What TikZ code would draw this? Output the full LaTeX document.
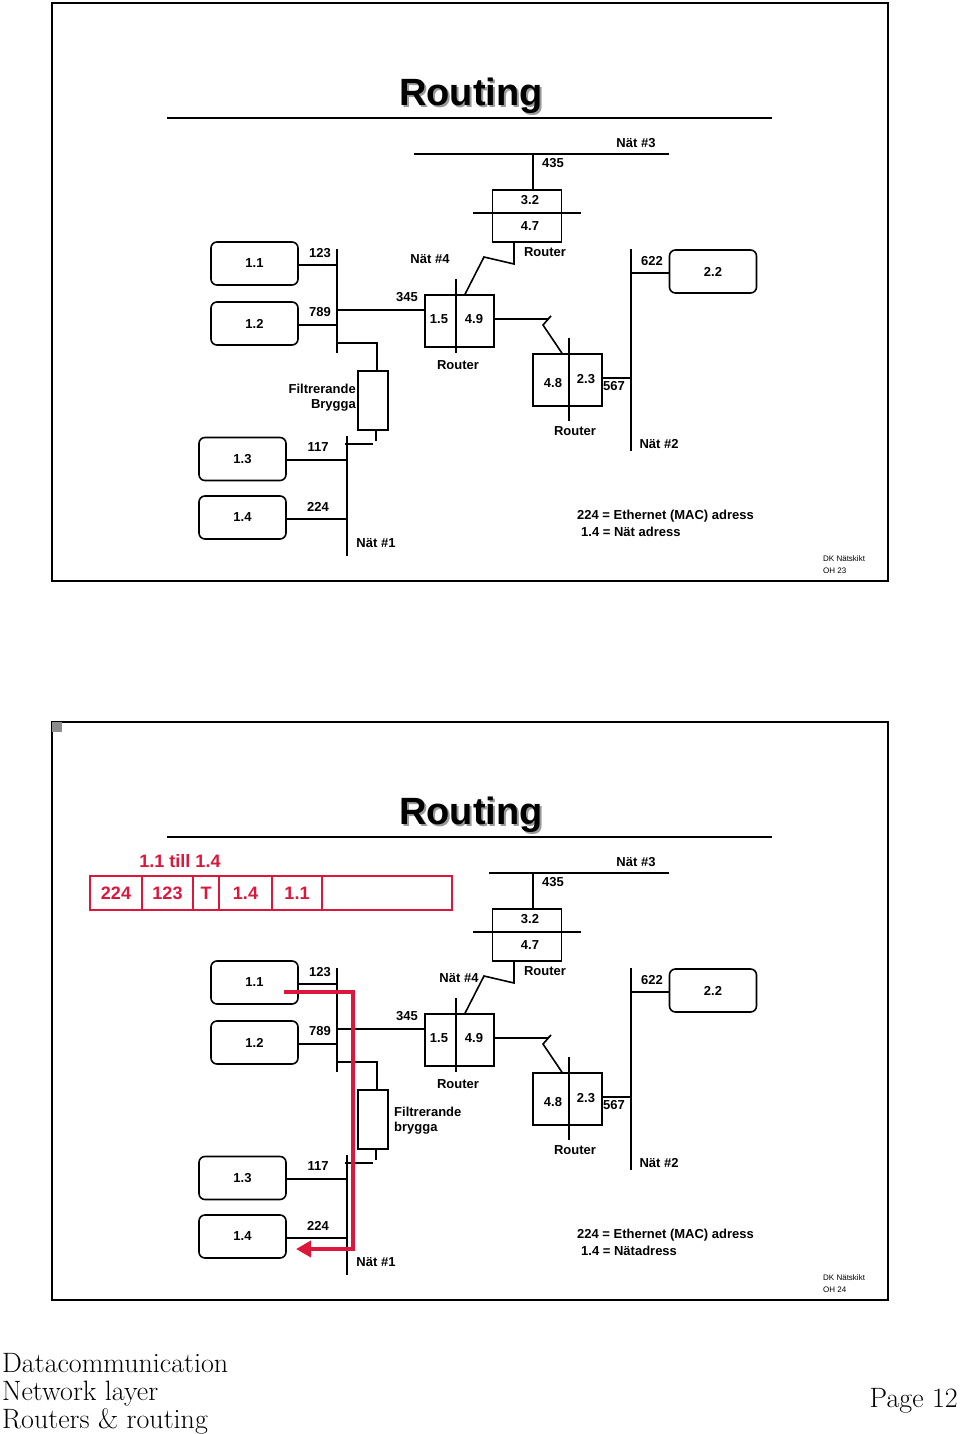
\documentclass[tikz,border=0pt]{standalone}
\usepackage{fontspec}
\setsansfont{Liberation Sans}
\usetikzlibrary{arrows.meta,positioning}
\definecolor{pktred}{RGB}{221,22,60}

\tikzset{
  wire/.style={line width=1.6pt},
  host/.style={draw,line width=1.6pt,rounded corners=6pt,minimum width=87pt,minimum height=43pt,inner sep=0pt,font=\sffamily\bfseries\fontsize{13}{15}\selectfont},
  rbox/.style={draw,line width=1.6pt,minimum width=69pt,minimum height=52pt,inner sep=0pt},
  lbl/.style={inner sep=0pt,font=\sffamily\bfseries\fontsize{13}{15}\selectfont},
  tiny/.style={inner sep=0pt,anchor=west,font=\sffamily\fontsize{8}{9}\selectfont},
  ttl/.style={inner sep=0pt,font=\sffamily\bfseries\fontsize{38}{42}\selectfont},
  field/.style={draw=pktred,line width=1.5pt,minimum height=34pt,inner sep=0pt,outer sep=0pt,text=pktred,font=\sffamily\bfseries\fontsize{18}{20}\selectfont},
  foot/.style={inner sep=0pt,font=\fontsize{28}{30}\selectfont}
}

\begin{document}
\begin{tikzpicture}[x=1pt,y=-1pt]
\useasboundingbox (0,0) rectangle (960,1434);

% the two slides
\foreach \dy/\bx/\nx/\oh/\adr in {0/414/430/23/Nät adress, 719/489/459/24/Nätadress}{
\begin{scope}[shift={(0,\dy)}]
  % frame and title
  \draw[line width=2pt] (52,3) rectangle (888,581);
  \node[ttl,text=black!40] (ttls) at (473,98) {Routing};
  \node[ttl] (ttl) at (471,96) {Routing};
  \draw[line width=2pt] (167,118) -- (772,118);

  % hosts
  \node[host] (h11) at (254.5,263.5) {1.1};
  \node[host] (h12) at (254.5,323.5) {1.2};
  \node[host] (h13) at (242.5,459) {1.3};
  \node[host] (h14) at (242.5,517.5) {1.4};
  \node[host] (h22) at (713,271.5) {2.2};

  % routers and bridge
  \node[rbox] (rB) at (527,216) {};
  \node[rbox] (rA) at (459.5,321) {};
  \node[rbox] (rC) at (567.5,380) {};
  \node[rbox,minimum width=30pt,minimum height=59pt] (br) at (373,400.5) {};

  % nets
  \coordinate (n3w) at (\bx,154); \coordinate (n3e) at (669,154);
  \coordinate (n1a) at (337,249); \coordinate (n1b) at (337,353);
  \coordinate (n1c) at (347,436); \coordinate (n1d) at (347,556);
  \coordinate (n2a) at (631,249); \coordinate (n2b) at (631,451);
  \coordinate (dAa) at (456,279); \coordinate (dAb) at (456,353);
  \coordinate (dBa) at (473,213); \coordinate (dBb) at (581,213);
  \coordinate (dCa) at (569,338); \coordinate (dCb) at (569,421);
  \coordinate (j435) at (533,154);
  \draw[wire] (n3w) -- (n3e);
  \draw[wire] (n1a) -- (n1b);
  \draw[wire] (n1c) -- (n1d);
  \draw[wire] (n2a) -- (n2b);
  \draw[wire] (dAa) -- (dAb);
  \draw[wire] (dBa) -- (dBb);
  \draw[wire] (dCa) -- (dCb);

  % connections
  \draw[wire] ([yshift=-1.5pt]h11.east) -- ([yshift=-1.5pt]h11.east -| n1a);
  \draw[wire] ([yshift=-1.5pt]h12.east) -- ([yshift=-1.5pt]h12.east -| n1a);
  \draw[wire] ([yshift=-1pt]h13.east) -- ([yshift=-1pt]h13.east -| n1c);
  \draw[wire] ([yshift=-1.5pt]h14.east) -- ([yshift=-1.5pt]h14.east -| n1c);
  \draw[wire] ([yshift=-1.5pt]h22.west) -- ([yshift=-1.5pt]h22.west -| n2a);
  \draw[wire] (j435) -- (j435 |- rB.north);
  \draw[wire] ([yshift=11pt]rA.west) -- ([yshift=11pt]rA.west -| n1a);
  \draw[wire] ([yshift=2pt]rC.east) -- ([yshift=2pt]rC.east -| n2a);
  \draw[wire] (rB.south -| 514,0) -- (514,264) -- (484,257) -- ([xshift=5.5pt]rA.north);
  \draw[wire] ([yshift=2pt]rA.east) -- (548,319) -- (551,316) -- (543,325) -- ([xshift=-5.5pt]rC.north);
  \draw[wire] (n1a |- 0,343) -- (377,343) -- (br.north -| 377,0);
  \draw[wire] (br.south -| 376,0) -- (376,441);
  \draw[wire] (345,444) -- (373,444);

  % labels
  \node[lbl] (l123) at (320,253) {123};
  \node[lbl] (l789) at (320,312) {789};
  \node[lbl] (l345) at (407,297) {345};
  \node[lbl] (l117) at (318,447) {117};
  \node[lbl] (l224) at (318,507) {224};
  \node[lbl] (l435) at (553,163) {435};
  \node[lbl] (l622) at (652,261) {622};
  \node[lbl] (l567) at (614,386) {567};
  \node[lbl] (l15) at (439,319) {1.5};
  \node[lbl] (l49) at (474,319) {4.9};
  \node[lbl] (l32) at (530,200) {3.2};
  \node[lbl] (l47) at (530,226) {4.7};
  \node[lbl] (l48) at (553,383) {4.8};
  \node[lbl] (l23) at (586,379) {2.3};
  \node[lbl] (rtA) at (458,365) {Router};
  \node[lbl] (rtB) at (545,252) {Router};
  \node[lbl] (rtC) at (575,431) {Router};
  \node[lbl] (nt1) at (376,543) {Nät \#1};
  \node[lbl] (nt2) at (659,444) {Nät \#2};
  \node[lbl] (nt3) at (636,143) {Nät \#3};
  \node[lbl] (nt4) at (\nx,259) {Nät \#4};

  % legend
  \node[lbl,anchor=west] (lg1) at (577,516) {224 = Ethernet (MAC) adress};
  \node[lbl,anchor=west] (lg2) at (581,532) {1.4 = \adr};
  \node[tiny] (dk) at (823,559) {DK Nätskikt};
  \node[tiny] (ohn) at (823,571) {OH \oh};
\end{scope}
}

% bridge labels
\node[lbl,align=right,anchor=east] (brt) at (356,398) {Filtrerande\\Brygga};
\node[lbl,align=left,anchor=west] (brb) at (394,1121) {Filtrerande\\brygga};
\fill[black!45] (52,722) rectangle (62,732);

% packet
\node[lbl,text=pktred,font=\sffamily\bfseries\fontsize{18}{20}\selectfont] (pkthdr) at (180,861) {1.1 till 1.4};
\node[field,minimum width=52pt] (f1) at (116,893) {224};
\node[field,minimum width=51pt,right=0pt of f1] (f2) {123};
\node[field,minimum width=26pt,right=0pt of f2] (f3) {T};
\node[field,minimum width=53pt,right=0pt of f3] (f4) {1.4};
\node[field,minimum width=50pt,right=0pt of f4] (f5) {1.1};
\node[field,minimum width=130pt,right=0pt of f5] (f6) {};

% packet path
\coordinate (pk1) at (284,992);
\coordinate (pk2) at (353,1249);
\coordinate (pk3) at (296,1249);
\draw[pktred,line width=4pt,-{Triangle[length=15pt,width=16pt]}] (pk1) -| (pk2) -- (pk3);

% footer
\node[foot,anchor=base west] (ft1) at (2,1372) {Datacommunication};
\node[foot,anchor=base west] (ft2) at (2,1400) {Network layer};
\node[foot,anchor=base west] (ft3) at (2,1428) {Routers \& routing};
\node[foot,anchor=base east] (ft4) at (958,1407) {Page 12};

\end{tikzpicture}
\end{document}
